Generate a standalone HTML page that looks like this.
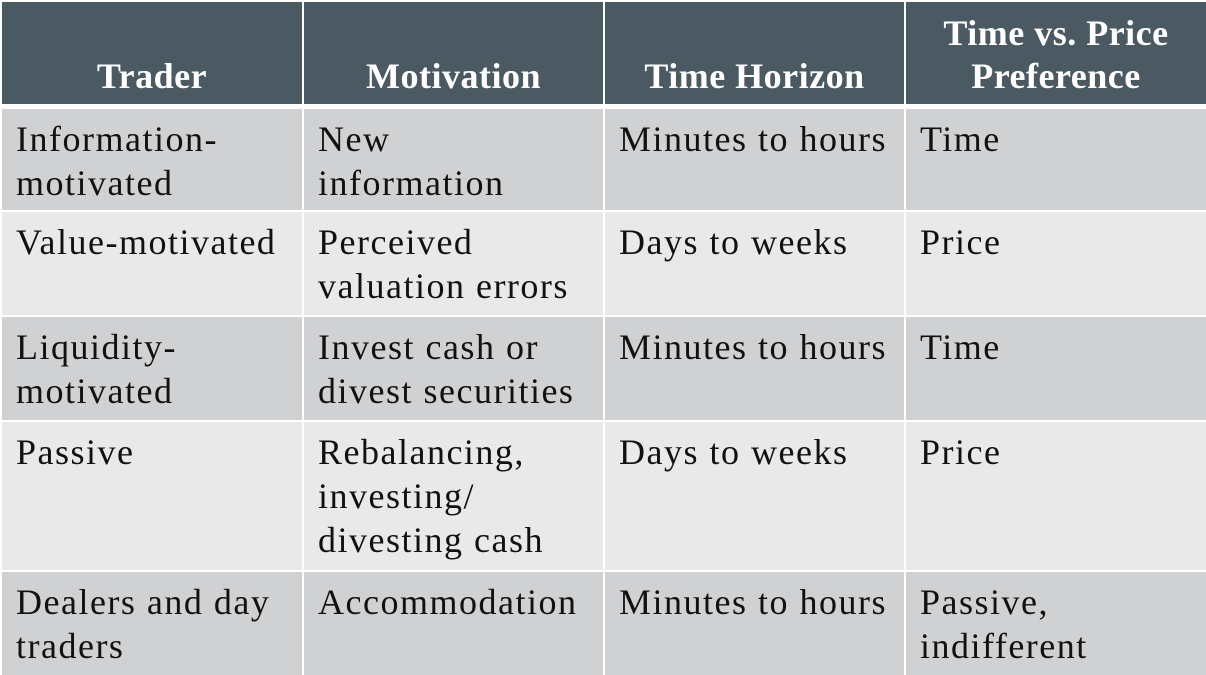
<!DOCTYPE html>
<html><head><style>
html,body{margin:0;padding:0;background:#fff;width:1206px;height:675px;overflow:hidden}
table{border-collapse:collapse;table-layout:fixed;width:1206px;font-family:"Liberation Serif",serif;font-size:36px;letter-spacing:1.5px;line-height:44px;color:#111}
td,th{border:2px solid #fff;vertical-align:top;padding:8px 0 0 14px;text-align:left;white-space:nowrap;overflow:hidden}
th{background:#4b5a62;color:#fff;font-weight:bold;text-align:center;vertical-align:bottom;padding:0 0 6px;line-height:43px;letter-spacing:0.5px;border-bottom:5px solid #fff}
tr.a td{background:#d0d1d3}
tr.b td{background:#e8e9e8}
</style></head><body>
<table>
<colgroup><col style="width:302px"><col style="width:301px"><col style="width:301px"><col style="width:302px"></colgroup>
<tr style="height:105px"><th>Trader</th><th>Motivation</th><th>Time Horizon</th><th>Time vs. Price<br>Preference</th></tr>
<tr class="a" style="height:105px"><td>Information-<br>motivated</td><td>New<br>information</td><td>Minutes to hours</td><td>Time</td></tr>
<tr class="b" style="height:105px"><td>Value-motivated</td><td>Perceived<br>valuation errors</td><td>Days to weeks</td><td>Price</td></tr>
<tr class="a" style="height:105px"><td>Liquidity-<br>motivated</td><td>Invest cash or<br>divest securities</td><td>Minutes to hours</td><td>Time</td></tr>
<tr class="b" style="height:150px"><td>Passive</td><td>Rebalancing,<br>investing/<br>divesting cash</td><td>Days to weeks</td><td>Price</td></tr>
<tr class="a" style="height:106px"><td>Dealers and day<br>traders</td><td>Accommodation</td><td>Minutes to hours</td><td>Passive,<br>indifferent</td></tr>
</table>
</body></html>
